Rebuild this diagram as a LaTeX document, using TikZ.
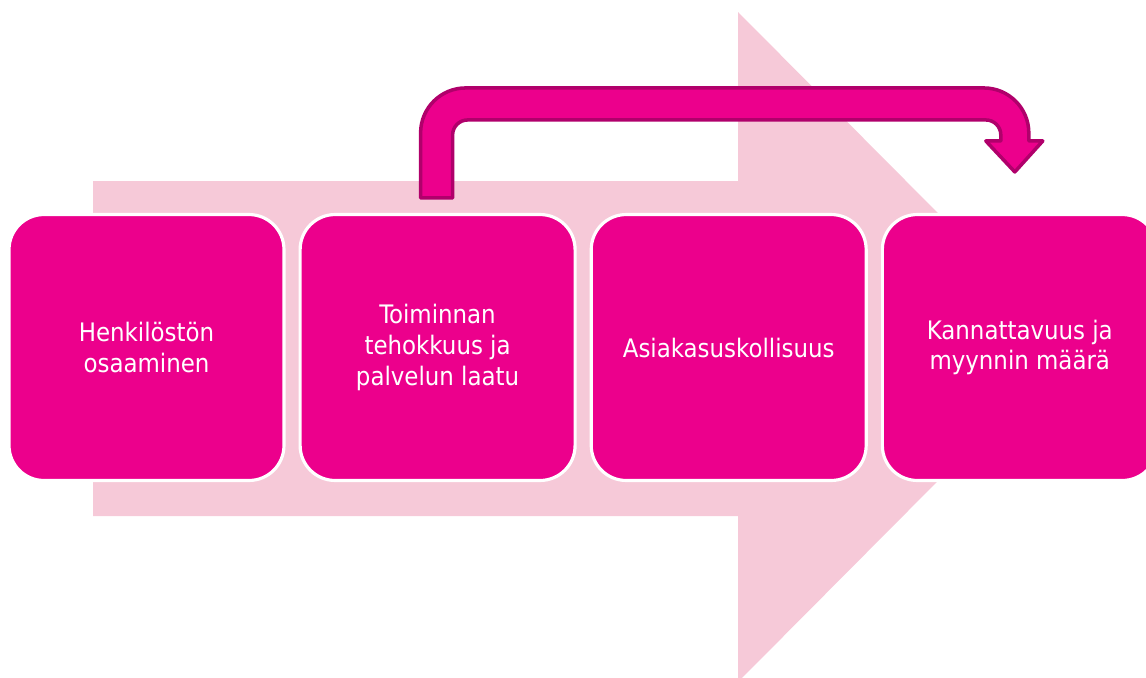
\documentclass[tikz,border=0pt]{standalone}
\usepackage{fontspec}
\setmainfont{DejaVu Sans Condensed}
\usepackage{tikz}
\usetikzlibrary{positioning, calc}
\definecolor{boxpink}{HTML}{EC008C}
\definecolor{softpink}{HTML}{F6C9D8}
\definecolor{edgepink}{HTML}{B0006B}

\begin{document}
\begin{tikzpicture}[
    x=0.02cm, y=-0.02cm,
    node distance=0.26cm,
    stage/.style={rectangle, rounded corners=0.7cm, draw=white, fill=boxpink, line width=1.8pt, minimum width=5.5cm, minimum height=5.32cm, align=center, text=white, inner sep=2pt, font=\fontsize{14.5}{17.5}\selectfont},
    loopline/.style={fill=boxpink, draw=edgepink, line width=2pt, line join=round}
]
    \useasboundingbox (0,0) rectangle (1146,677);

    % big background arrow
    \fill[softpink] (93,181) -- (738,181) -- (738,12) -- (1071,347) -- (738,682) -- (738,516) -- (93,516) -- cycle;

    \node[stage] (skill) at (146.5,347.5) {Henkilöstön\\osaaminen};
    \node[stage, right=of skill] (quality) {Toiminnan\\tehokkuus ja\\palvelun laatu};
    \node[stage, right=of quality] (loyalty) {Asiakasuskollisuus};
    \node[stage, right=of loyalty] (profit) {Kannattavuus ja\\myynnin määrä};

    % bent arrow from quality to profit
    \coordinate (lift) at ($(quality.north)+(0,-15)$);
    \coordinate (drop) at ($(profit.north)+(-5,-41)$);
    \coordinate (hb) at ($(drop)+(0,-31)$);
    \coordinate (ol) at ($(lift)+(-17,-110)$);
    \coordinate (il) at ($(lift)+(15,-78)$);
    \coordinate (tr) at ($(hb)+(14,0)$);
    \coordinate (tri) at ($(hb)+(-14,0)$);
    \filldraw[loopline] ($(lift)+(-17,0)$) [rounded corners=0.9cm] -- (ol) -- (ol -| tr) [sharp corners] -- (tr) -- ($(hb)+(28,0)$) -- (drop) -- ($(hb)+(-29,0)$) -- (tri) [rounded corners=0.3cm] -- (il -| tri) -- (il) [sharp corners] -- ($(lift)+(15,0)$) -- cycle;
\end{tikzpicture}
\end{document}
